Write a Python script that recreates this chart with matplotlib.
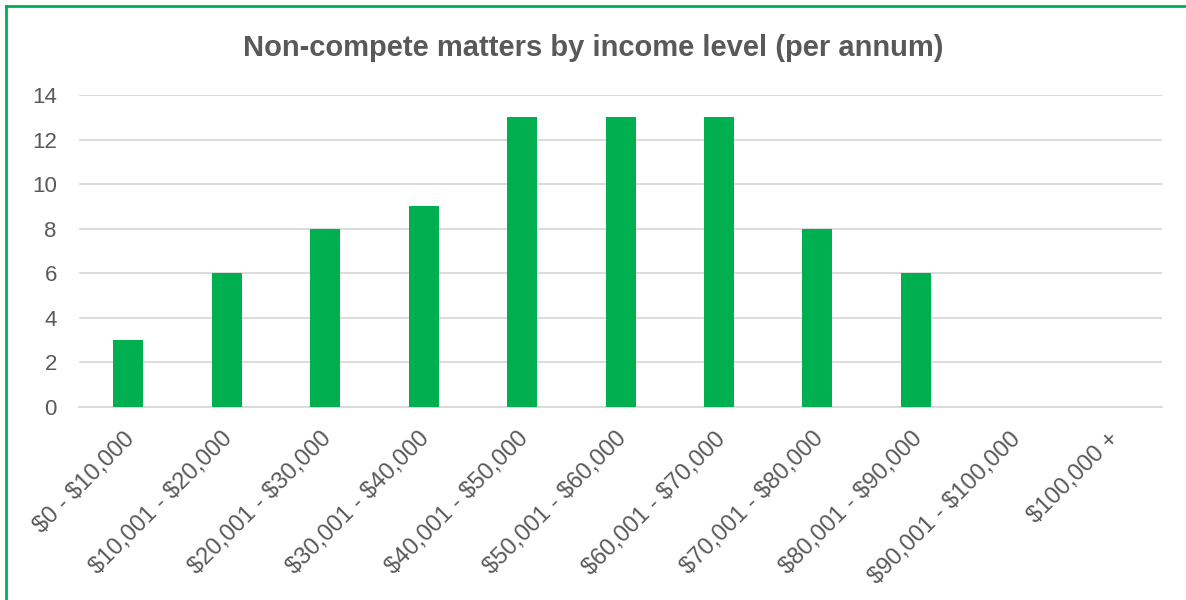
import matplotlib.pyplot as plt
import matplotlib.transforms as mtransforms
from matplotlib.lines import Line2D

# === Data ===
income_bands = [
    "$0 - $10,000", "$10,001 - $20,000", "$20,001 - $30,000",
    "$30,001 - $40,000", "$40,001 - $50,000", "$50,001 - $60,000",
    "$60,001 - $70,000", "$70,001 - $80,000", "$80,001 - $90,000",
    "$90,001 - $100,000", "$100,000 +",
]
matters = [3, 6, 8, 9, 13, 13, 13, 8, 6, 0, 0]
y_ticks = [0, 2, 4, 6, 8, 10, 12, 14]

GREEN = "#00B050"
GREY_TEXT = "#595959"
GRID = "#D9D9D9"

plt.rcParams["font.family"] = ["Liberation Sans", "DejaVu Sans"]
plt.rcParams["text.parse_math"] = False

fig = plt.figure(figsize=(11.86, 6), dpi=100)
ax = fig.add_axes([0.0666, 0.3217, 0.9132, 0.52])

x = list(range(len(income_bands)))
ax.bar(x, matters, width=0.305, color=GREEN, zorder=3)

ax.set_xlim(-0.5, len(income_bands) - 0.5)
ax.set_ylim(0, 14)
ax.set_yticks(y_ticks)
ax.set_xticks(x)
ax.set_xticklabels(income_bands, rotation=45, ha="right", va="top",
                   rotation_mode="anchor")

ax.grid(axis="y", color=GRID, linewidth=1.3, zorder=0)
for side in ["top", "right", "left"]:
    ax.spines[side].set_visible(False)
ax.spines["bottom"].set_color(GRID)
ax.spines["bottom"].set_linewidth(1.3)
ax.tick_params(axis="both", length=0, colors=GREY_TEXT, labelsize=16)
ax.tick_params(axis="x", pad=15, labelsize=17)
ax.tick_params(axis="y", pad=16)

# nudge rotated labels a little to the left
shift = mtransforms.ScaledTranslation(-5 / 100, 0, fig.dpi_scale_trans)
for lbl in ax.get_xticklabels():
    lbl.set_transform(lbl.get_transform() + shift)

fig.text(0.5, 0.92, "Non-compete matters by income level (per annum)",
         ha="center", va="center", fontsize=21, fontweight="bold", color=GREY_TEXT)

# green frame (left and top edges visible)
fig.add_artist(Line2D([6 / 1186, 6 / 1186], [0, 1 - 6 / 600], color=GREEN, linewidth=2))
fig.add_artist(Line2D([6 / 1186, 1], [1 - 6 / 600, 1 - 6 / 600], color=GREEN, linewidth=2))

plt.savefig("out.png", dpi=100)
plt.close()
